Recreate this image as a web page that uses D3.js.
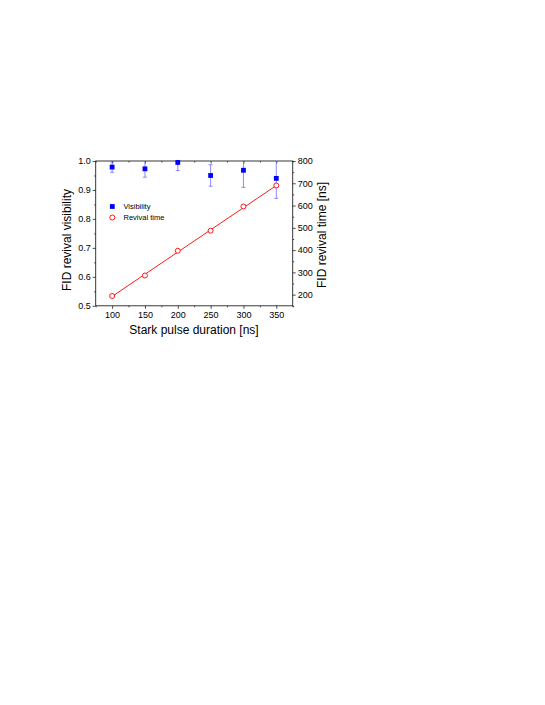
<!DOCTYPE html>
<html>
<head>
<meta charset="utf-8">
<script src="https://cdn.jsdelivr.net/npm/d3@7"></script>
<style>
    body { margin: 0; background: #fff; }
    svg { display: block; }
    text { font-family: "Liberation Sans", Arial, sans-serif; fill: #000; }
</style>
</head>
<body>
<div id="plot"></div>
<script>
// data
var pulse = [100, 150, 200, 250, 300, 350];            // Stark pulse duration [ns]
var visibility = [0.979, 0.973, 0.995, 0.950, 0.968, 0.940];
var visErr = [0.018, 0.029, 0.028, 0.037, 0.059, 0.069];
var revival = [194, 286, 397, 487, 596, 690];           // FID revival time [ns]
var fitX = [100, 350];
var fitY = [192, 690];

var xTicks = [100, 150, 200, 250, 300, 350];
var xMinor = [75, 125, 175, 225, 275, 325, 375];
var yLTicks = [0.5, 0.6, 0.7, 0.8, 0.9, 1.0];
var yLMinor = [0.55, 0.65, 0.75, 0.85, 0.95];
var yRTicks = [200, 300, 400, 500, 600, 700, 800];
var yRMinor = [150, 250, 350, 450, 550, 650, 750];

// plot box (page pixels)
var box = { left: 95.7, right: 292.7, top: 161, bottom: 305.8 };

var svg = d3.select("#plot")
    .append("svg")
    .attr("width", 545)
    .attr("height", 705);

var x = d3.scaleLinear().domain([75, 375]).range([box.left, box.right]);
var yL = d3.scaleLinear().domain([0.5, 1.0]).range([box.bottom, box.top]);
var yR = d3.scaleLinear().domain([150, 800]).range([box.bottom, box.top]);

svg.append("clipPath").attr("id", "clip")
    .append("rect")
    .attr("x", box.left)
    .attr("y", box.top)
    .attr("width", box.right - box.left)
    .attr("height", box.bottom - box.top);

var axisColor = "#222";

// axes
function styleAxis(g) {
    g.select(".domain").remove();
    g.selectAll(".tick line").attr("stroke", axisColor).attr("stroke-width", 0.8);
    g.selectAll(".tick text").style("font-size", "9px");
}

svg.append("g")
    .attr("transform", "translate(0," + box.bottom + ")")
    .call(d3.axisBottom(x).tickValues(xTicks).tickSize(3).tickPadding(3).tickFormat(d3.format("d")))
    .call(styleAxis);
svg.append("g")
    .attr("transform", "translate(0," + box.bottom + ")")
    .call(d3.axisBottom(x).tickValues(xMinor).tickSize(1.5).tickFormat(""))
    .call(styleAxis);
svg.append("g")
    .attr("transform", "translate(0," + box.top + ")")
    .call(d3.axisBottom(x).tickValues(xTicks).tickSize(2.5).tickFormat(""))
    .call(styleAxis);
svg.append("g")
    .attr("transform", "translate(0," + box.top + ")")
    .call(d3.axisBottom(x).tickValues(xMinor).tickSize(1.5).tickFormat(""))
    .call(styleAxis);

svg.append("g")
    .attr("transform", "translate(" + box.left + ",0)")
    .call(d3.axisLeft(yL).tickValues(yLTicks).tickSize(3).tickPadding(2).tickFormat(d3.format(".1f")))
    .call(styleAxis);
svg.append("g")
    .attr("transform", "translate(" + box.left + ",0)")
    .call(d3.axisLeft(yL).tickValues(yLMinor).tickSize(1.5).tickFormat(""))
    .call(styleAxis);

svg.append("g")
    .attr("transform", "translate(" + box.right + ",0)")
    .call(d3.axisRight(yR).tickValues(yRTicks).tickSize(3).tickPadding(2).tickFormat(d3.format("d")))
    .call(styleAxis);
svg.append("g")
    .attr("transform", "translate(" + box.right + ",0)")
    .call(d3.axisRight(yR).tickValues(yRMinor).tickSize(1.5).tickFormat(""))
    .call(styleAxis);

// frame
svg.append("rect")
    .attr("x", box.left)
    .attr("y", box.top)
    .attr("width", box.right - box.left)
    .attr("height", box.bottom - box.top)
    .attr("fill", "none")
    .attr("stroke", axisColor)
    .attr("stroke-width", 0.9);

var plot = svg.append("g").attr("clip-path", "url(#clip)");

// fit line
plot.append("line")
    .attr("x1", x(fitX[0])).attr("y1", yR(fitY[0]))
    .attr("x2", x(fitX[1])).attr("y2", yR(fitY[1]))
    .attr("stroke", "#ff1a1a")
    .attr("stroke-width", 1);

// error bars
var vis = pulse.map(function(p, i) { return { x: p, y: visibility[i], e: visErr[i] }; });
var bars = plot.append("g").selectAll("g").data(vis).enter().append("g");
bars.append("line")
    .attr("x1", function(d) { return x(d.x); })
    .attr("x2", function(d) { return x(d.x); })
    .attr("y1", function(d) { return yL(d.y - d.e); })
    .attr("y2", function(d) { return yL(d.y + d.e); })
    .attr("stroke", "#5a5aff")
    .attr("stroke-width", 0.7);
[-1, 1].forEach(function(s) {
    bars.append("line")
        .attr("x1", function(d) { return x(d.x) - 2; })
        .attr("x2", function(d) { return x(d.x) + 2; })
        .attr("y1", function(d) { return yL(d.y + s * d.e); })
        .attr("y2", function(d) { return yL(d.y + s * d.e); })
        .attr("stroke", "#5a5aff")
        .attr("stroke-width", 0.7);
});

// visibility squares
svg.append("g").selectAll("rect")
    .data(vis)
    .enter()
    .append("rect")
    .attr("x", function(d) { return x(d.x) - 2.4; })
    .attr("y", function(d) { return yL(d.y) - 2.4; })
    .attr("width", 4.8)
    .attr("height", 4.8)
    .attr("fill", "#0000ff");

// revival circles
svg.append("g").selectAll("circle")
    .data(pulse.map(function(p, i) { return { x: p, y: revival[i] }; }))
    .enter()
    .append("circle")
    .attr("cx", function(d) { return x(d.x); })
    .attr("cy", function(d) { return yR(d.y); })
    .attr("r", 2.5)
    .attr("fill", "#fff")
    .attr("stroke", "#ff0000")
    .attr("stroke-width", 0.9);

// legend
var lx = 112.3;
svg.append("rect")
    .attr("x", lx - 2.4).attr("y", 206.5 - 2.4)
    .attr("width", 4.8).attr("height", 4.8)
    .attr("fill", "#0000ff");
svg.append("circle")
    .attr("cx", lx).attr("cy", 217.5).attr("r", 2.5)
    .attr("fill", "#fff").attr("stroke", "#ff0000").attr("stroke-width", 0.9);
svg.append("text")
    .attr("x", 123.5).attr("y", 206.5)
    .attr("dominant-baseline", "central")
    .style("font-size", "7.5px")
    .text("Visibility");
svg.append("text")
    .attr("x", 123.5).attr("y", 217.5)
    .attr("dominant-baseline", "central")
    .style("font-size", "7.5px")
    .text("Revival time");

// axis titles
svg.append("text")
    .attr("text-anchor", "middle")
    .attr("x", 194)
    .attr("y", 334)
    .style("font-size", "12px")
    .text("Stark pulse duration [ns]");

svg.append("text")
    .attr("text-anchor", "middle")
    .attr("transform", "translate(71,240) rotate(-90)")
    .style("font-size", "12px")
    .text("FID revival visibility");

svg.append("text")
    .attr("text-anchor", "middle")
    .attr("transform", "translate(325.5,235) rotate(-90)")
    .style("font-size", "12px")
    .text("FID revival time [ns]");
</script>
</body>
</html>
